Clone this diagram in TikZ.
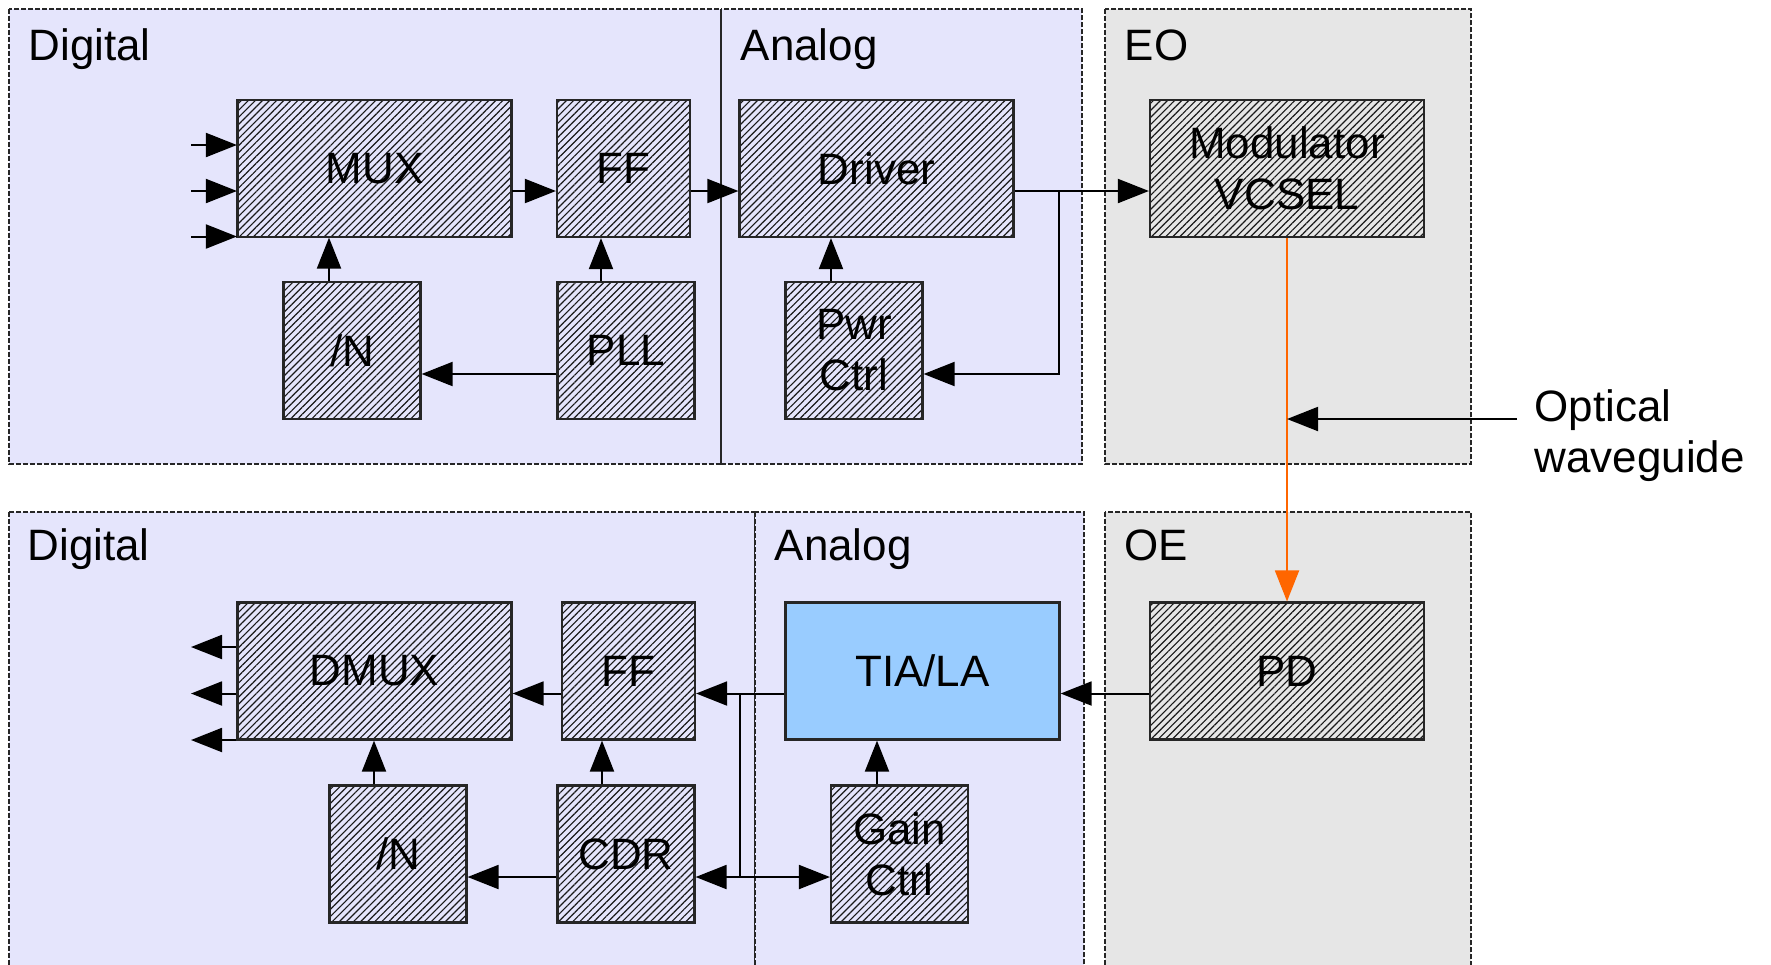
\documentclass[tikz,border=0pt]{standalone}
\usepackage{fontspec}
\setmainfont{Liberation Sans}
\usetikzlibrary{arrows.meta,patterns.meta}

\definecolor{lavanda}{RGB}{229,229,252}
\definecolor{cinzaeo}{RGB}{230,230,230}
\definecolor{azultia}{RGB}{153,204,255}
\definecolor{laranja}{RGB}{255,102,0}

\begin{document}
\begin{tikzpicture}[x=1mm, y=-1mm,
  font=\fontsize{12.5}{14.5}\selectfont,
  zona/.style={draw=black!85, line width=0.15mm, dash pattern=on 0.5mm off 0.2mm},
  bloco/.style={draw=black!85, line width=0.22mm, minimum height=13.7mm, inner sep=0pt, align=center},
  hachura/.style={bloco, pattern={Lines[angle=45,distance=0.5mm,line width=0.33pt]}, pattern color=black!90},
  grande/.style={minimum width=27.4mm},
  pequeno/.style={minimum width=13.7mm},
  sinal/.style={line width=0.2mm, -{Triangle[length=3.1mm,width=2.4mm]}},
  titulo/.style={anchor=base west, inner sep=0pt}]
\useasboundingbox (0,0) rectangle (177.1,96.4);
\clip (0,0) rectangle (177.1,96.4);

%zonas do emissor
\draw [zona, fill=lavanda] (0.9,0.9) rectangle (72.1,46.4);
\draw [zona, fill=lavanda] (72.1,0.9) rectangle (108.2,46.4);
\draw [line width=0.15mm, black!85] (72.1,0.9) -- (72.1,46.4);
\draw [zona, fill=cinzaeo] (110.5,0.9) rectangle (147.1,46.4);
\node [titulo] (tdig) at (2.8,6.0) {Digital};
\node [titulo] (tana) at (74.0,6.0) {Analog};
\node [titulo] (teo) at (112.4,6.0) {EO};

%zonas do receptor
\draw [zona, fill=lavanda] (0.9,51.2) rectangle (75.5,99);
\draw [zona, fill=lavanda] (75.5,51.2) rectangle (108.4,99);
\draw [zona, fill=cinzaeo] (110.5,51.2) rectangle (147.1,99);
\node [titulo] (rdig) at (2.7,56.0) {Digital};
\node [titulo] (rana) at (77.4,56.0) {Analog};
\node [titulo] (roe) at (112.4,56.0) {OE};

%blocos do emissor
\node [hachura, grande] (mux) at (37.45,16.85) {MUX};
\node [hachura, minimum width=13.3mm] (ff) at (62.35,16.85) {FF};
\node [hachura, grande] (drv) at (87.65,16.85) {Driver};
\node [hachura, grande] (mod) at (128.7,16.85) {Modulator\\VCSEL};
\node [hachura, pequeno] (divn) at (35.2,35.05) {/N};
\node [hachura, pequeno] (pll) at (62.6,35.05) {PLL};
\node [hachura, pequeno] (pwr) at (85.4,35.05) {Pwr\\Ctrl};

%blocos do receptor
\node [hachura, grande] (dmux) at (37.45,67.1) {DMUX};
\node [hachura, minimum width=13.3mm] (ffr) at (62.85,67.1) {FF};
\node [bloco, grande, fill=azultia] (tia) at (92.25,67.1) {TIA/LA};
\node [hachura, grande] (pd) at (128.7,67.1) {PD};
\node [hachura, pequeno] (divnr) at (39.8,85.4) {/N};
\node [hachura, pequeno] (cdr) at (62.6,85.4) {CDR};
\node [hachura, pequeno] (gain) at (89.95,85.4) {Gain\\Ctrl};

%entradas do MUX
\coordinate (in1) at (19.1,14.5);
\coordinate (in2) at (19.1,19.1);
\coordinate (in3) at (19.1,23.65);
\draw [sinal] (in1) -- (in1 -| mux.west);
\draw [sinal] (in2) -- (in2 -| mux.west);
\draw [sinal] (in3) -- (in3 -| mux.west);

%caminho do emissor
\draw [sinal] ([yshift=-2.25mm]mux.east) -- ([yshift=-2.25mm]ff.west);
\draw [sinal] ([yshift=-2.25mm]ff.east) -- ([yshift=-2.25mm]drv.west);
\draw [sinal] ([yshift=-2.25mm]drv.east) -- ([yshift=-2.25mm]mod.west);
\coordinate (tap) at (105.9,19.1);
\draw [sinal] (tap) |- ([yshift=-2.35mm]pwr.east);
\draw [sinal] ([xshift=-2.3mm]divn.north) -- ([xshift=-2.3mm]divn.north |- mux.south);
\draw [sinal] ([xshift=-2.5mm]pll.north) -- ([xshift=-2.5mm]pll.north |- ff.south);
\draw [sinal] ([yshift=-2.35mm]pll.west) -- ([yshift=-2.35mm]pll.west -| divn.east);
\draw [sinal] ([xshift=-2.3mm]pwr.north) -- ([xshift=-2.3mm]pwr.north |- drv.south);

%guia optico
\draw [sinal, laranja] (mod.south) -- (pd.north);
\coordinate (wg) at (151.7,41.9);
\draw [sinal] (wg) -- (wg -| mod.south);
\node [anchor=west, align=left, inner sep=0pt] (wglabel) at (153.4,43.6) {Optical\\waveguide};

%saidas do DMUX
\coordinate (out1) at (19.1,64.7);
\coordinate (out2) at (19.1,69.35);
\coordinate (out3) at (19.1,74.0);
\draw [sinal] (out1 -| dmux.west) -- (out1);
\draw [sinal] (out2 -| dmux.west) -- (out2);
\draw [sinal] (out3 -| dmux.west) -- (out3);

%caminho do receptor
\draw [sinal] ([yshift=-2.25mm]pd.west) -- ([yshift=-2.25mm]tia.east);
\draw [sinal] ([yshift=-2.25mm]tia.west) -- ([yshift=-2.25mm]ffr.east);
\draw [sinal] ([yshift=-2.25mm]ffr.west) -- ([yshift=-2.25mm]dmux.east);
\coordinate (split) at (73.95,69.35);
\draw [sinal] (split) |- ([yshift=-2.3mm]cdr.east);
\draw [sinal] (split) |- ([yshift=-2.3mm]gain.west);
\draw [sinal] ([xshift=-2.4mm]cdr.north) -- ([xshift=-2.4mm]cdr.north |- ffr.south);
\draw [sinal] ([yshift=-2.3mm]cdr.west) -- ([yshift=-2.3mm]cdr.west -| divnr.east);
\draw [sinal] ([xshift=-2.4mm]divnr.north) -- ([xshift=-2.4mm]divnr.north |- dmux.south);
\draw [sinal] ([xshift=-2.25mm]gain.north) -- ([xshift=-2.25mm]gain.north |- tia.south);

\end{tikzpicture}
\end{document}
